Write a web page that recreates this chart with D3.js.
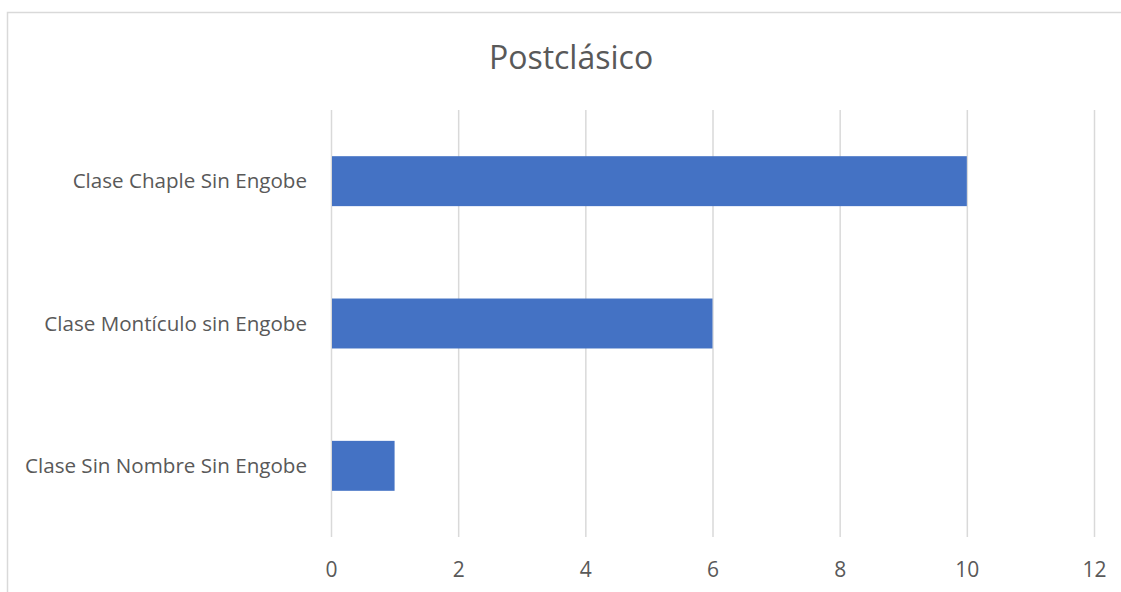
<!DOCTYPE html>
<html><head><meta charset="utf-8">
<script src="https://cdn.jsdelivr.net/npm/d3@7"></script>
<style>
html,body{margin:0;padding:0;background:#fff;}
svg{display:block;}
text{font-family:"Open Sans","Noto Sans",sans-serif;fill:#595959;}
</style></head><body>
<svg id="c" width="1121" height="592"></svg>
<script>
const title = "Postclásico";
const categories = ["Clase Chaple Sin Engobe", "Clase Montículo sin Engobe", "Clase Sin Nombre Sin Engobe"];
const values = [10, 6, 1];
const xTicks = [0, 2, 4, 6, 8, 10, 12];

const svg = d3.select("#c");
const W = 1121, H = 592;
const m = {left: 331, right: 1094, top: 110, bottom: 537};

// chart border
svg.append("rect").attr("x", 7.5).attr("y", 12.5).attr("width", W + 10).attr("height", H + 10)
  .attr("fill", "none").attr("stroke", "#d9d9d9").attr("stroke-width", 1.5);

const x = d3.scaleLinear().domain([0, 12]).range([m.left, m.right]);
const y = d3.scaleBand().domain(categories).range([m.top, m.bottom]).paddingInner(0.649).paddingOuter(0.3245);

// gridlines
svg.append("g").selectAll("line").data(xTicks).join("line")
  .attr("x1", d => x(d) + 0.5).attr("x2", d => x(d) + 0.5)
  .attr("y1", m.top).attr("y2", m.bottom)
  .attr("stroke", "#d9d9d9").attr("stroke-width", 1.5);

// bars
svg.append("g").selectAll("rect").data(categories).join("rect")
  .attr("x", x(0) + 1).attr("y", d => y(d))
  .attr("width", (d, i) => x(values[i]) - x(0) - 1)
  .attr("height", y.bandwidth())
  .attr("fill", "#4472c4");

// x tick labels
svg.append("g").selectAll("text").data(xTicks).join("text")
  .attr("x", d => x(d) + 0.5).attr("y", 577)
  .attr("text-anchor", "middle").attr("font-size", 21).text(d => d);

// category labels
svg.append("g").selectAll("text").data(categories).join("text")
  .attr("x", 307).attr("y", d => y(d) + y.bandwidth() / 2 + 7)
  .attr("text-anchor", "end").attr("font-size", 20.6).text(d => d);

svg.append("text").attr("x", 571).attr("y", 69).attr("text-anchor", "middle")
  .attr("font-size", 32).text(title);
</script>
</body></html>
